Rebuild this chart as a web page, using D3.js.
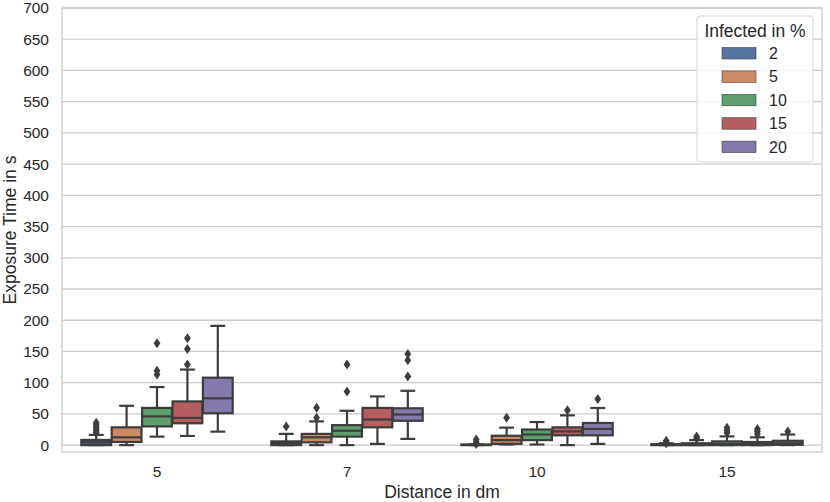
<!DOCTYPE html>
<html>
<head>
<meta charset="utf-8">
<script src="https://cdn.jsdelivr.net/npm/d3@7"></script>
<style>
  body { margin: 0; background: #fff; }
  text { font-family: "Liberation Sans", Arial, sans-serif; fill: #262626; }
</style>
</head>
<body>
<div id="graph"></div>
<script>
// categories
const distances = ["5", "7", "10", "15"];
const infected = ["2", "5", "10", "15", "20"];
const colors = ["#5875a4", "#cc8963", "#5f9e6e", "#b55d60", "#857aab"];

// box stats, one row per distance, one value per infected %
const q1 = [[0, 5, 30, 35, 51], [0, 4.5, 13.6, 28.5, 39], [0, 2, 8, 15.7, 15.7], [0, 0, 0, 0, 0.5]];
const medians = [[4.5, 12.5, 46, 43.6, 75], [3.5, 12.5, 23, 41, 49], [0.3, 8, 17, 22, 26], [0.5, 1, 2, 2, 3]];
const q3 = [[8.3, 28.5, 59.6, 70, 108], [6, 18, 32, 59.6, 59], [1, 15, 25, 28.5, 35.5], [1.5, 3, 6, 5, 7]];
const whiskLow = [[0, 0, 13.6, 14.7, 21.6], [0, 0, 0, 2, 10], [0, 1, 1, 0, 2], [0, 0, 0, 0, 0]];
const whiskHigh = [[16.4, 63, 93, 121, 191], [18, 38, 55, 78, 87], [1.5, 28, 37, 47.7, 59.5], [3, 8, 14, 12.5, 17]];
const fliers = [
    [[20, 23, 26, 29, 33, 36], [], [113, 119, 163], [129, 154, 171], []],
    [[30], [44, 60], [86, 129], [], [110, 136, 146]],
    [[2, 5, 9], [44], [], [56], [74]],
    [[3, 5, 7], [11, 14], [20, 24, 28], [18, 22, 26], [22]]
];
const yTicks = d3.range(0, 701, 50);

const margin = {top: 8, right: 8, bottom: 50, left: 62};
const width = 830 - margin.left - margin.right;
const height = 502 - margin.top - margin.bottom;
const lineColor = "#3d3d3d";

var svg = d3.select("#graph")
    .append("svg")
    .attr("width", 830)
    .attr("height", 502)
    .append("g")
    .attr("transform", "translate(" + margin.left + "," + margin.top + ")");

var x = d3.scaleBand().domain(distances).range([0, width]);
var xHue = d3.scaleBand().domain(infected).range([0, x.bandwidth() * 0.8]);
var y = d3.scaleLinear().domain([-11, 700]).range([height, 0]);

// grid
svg.append("g")
    .selectAll("line")
    .data(yTicks)
    .join("line")
    .attr("x1", 0).attr("x2", width)
    .attr("y1", d => y(d)).attr("y2", d => y(d))
    .attr("stroke", "#cccccc")
    .attr("stroke-width", 1.3);

// axes (labels only, seaborn whitegrid has no tick marks)
var yAxis = svg.append("g")
    .call(d3.axisLeft(y).tickValues(yTicks).tickSize(0).tickPadding(13));
yAxis.select(".domain").remove();
yAxis.selectAll("text").style("font-size", "15.5px").attr("fill", "#262626");

var xAxis = svg.append("g")
    .attr("transform", "translate(0," + height + ")")
    .call(d3.axisBottom(x).tickSize(0).tickPadding(14));
xAxis.select(".domain").remove();
xAxis.selectAll("text").style("font-size", "15.5px").attr("fill", "#262626");

// spines
svg.append("rect")
    .attr("width", width).attr("height", height)
    .attr("fill", "none")
    .attr("stroke", "#cccccc")
    .attr("stroke-width", 1.3);

// boxes
const boxW = xHue.bandwidth() * 0.98;
distances.forEach((dist, i) => {
    const g = svg.append("g")
        .attr("transform", "translate(" + (x(dist) + x.bandwidth() * 0.1) + ",0)");
    infected.forEach((inf, j) => {
        const cx = xHue(inf) + xHue.bandwidth() / 2;
        const b = g.append("g");
        // whiskers
        b.append("line")
            .attr("x1", cx).attr("x2", cx)
            .attr("y1", y(q3[i][j])).attr("y2", y(whiskHigh[i][j]))
            .attr("stroke", lineColor).attr("stroke-width", 2.2);
        b.append("line")
            .attr("x1", cx).attr("x2", cx)
            .attr("y1", y(q1[i][j])).attr("y2", y(whiskLow[i][j]))
            .attr("stroke", lineColor).attr("stroke-width", 2.2);
        // caps
        [whiskHigh[i][j], whiskLow[i][j]].forEach(v => {
            b.append("line")
                .attr("x1", cx - boxW / 4).attr("x2", cx + boxW / 4)
                .attr("y1", y(v)).attr("y2", y(v))
                .attr("stroke", lineColor).attr("stroke-width", 2.2);
        });
        b.append("rect")
            .attr("x", cx - boxW / 2)
            .attr("width", boxW)
            .attr("y", y(q3[i][j]))
            .attr("height", y(q1[i][j]) - y(q3[i][j]))
            .attr("fill", colors[j])
            .attr("stroke", lineColor)
            .attr("stroke-width", 2.2);
        b.append("line")
            .attr("x1", cx - boxW / 2).attr("x2", cx + boxW / 2)
            .attr("y1", y(medians[i][j])).attr("y2", y(medians[i][j]))
            .attr("stroke", lineColor).attr("stroke-width", 2.2);
        // outliers, thin diamonds
        b.selectAll("path.flier")
            .data(fliers[i][j])
            .join("path")
            .attr("class", "flier")
            .attr("d", d => {
                const py = y(d);
                return "M" + cx + "," + (py - 5) + "L" + (cx + 3.4) + "," + py +
                    "L" + cx + "," + (py + 5) + "L" + (cx - 3.4) + "," + py + "Z";
            })
            .attr("fill", lineColor);
    });
});

// axis titles
svg.append("text")
    .attr("x", width / 2)
    .attr("y", height + 46)
    .attr("text-anchor", "middle")
    .style("font-size", "17.5px")
    .text("Distance in dm");

svg.append("text")
    .attr("transform", "translate(" + (-46) + "," + (height / 2) + ") rotate(-90)")
    .attr("text-anchor", "middle")
    .style("font-size", "17.5px")
    .text("Exposure Time in s");

// legend
const legend = svg.append("g").attr("transform", "translate(" + (width - 125) + ",8)");
legend.append("rect")
    .attr("width", 116).attr("height", 146)
    .attr("rx", 3)
    .attr("fill", "white").attr("fill-opacity", 0.8)
    .attr("stroke", "#d6d6d6");
legend.append("text")
    .attr("x", 58).attr("y", 21)
    .attr("text-anchor", "middle")
    .style("font-size", "17.5px")
    .text("Infected in %");
legend.selectAll("g.item")
    .data(infected)
    .join("g")
    .attr("class", "item")
    .attr("transform", (d, i) => "translate(25," + (31.5 + i * 23.4) + ")")
    .each(function (d, i) {
        const it = d3.select(this);
        it.append("rect")
            .attr("width", 34).attr("height", 11.5)
            .attr("fill", colors[i])
            .attr("stroke", "#3f3f3f").attr("stroke-width", 0.6);
        it.append("text")
            .attr("x", 47).attr("y", 11.5)
            .style("font-size", "16px")
            .text(d);
    });
</script>
</body>
</html>
